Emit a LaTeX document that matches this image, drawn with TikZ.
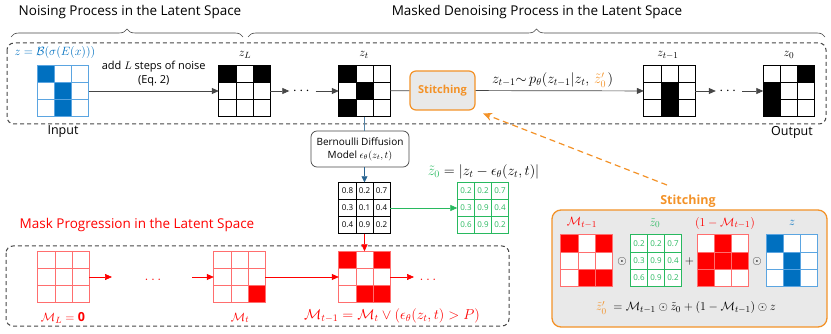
\documentclass[tikz,border=0pt]{standalone}
\usepackage{amsmath,amssymb}
\usepackage{fontspec}
\setmainfont{Open Sans}
\usetikzlibrary{arrows.meta, calc, decorations.pathreplacing, positioning}

\definecolor{zblue}{RGB}{0,112,192}
\definecolor{zbluelight}{RGB}{91,165,225}
\definecolor{mred}{RGB}{255,0,0}
\definecolor{mredlight}{RGB}{255,110,110}
\definecolor{zgreen}{RGB}{40,185,95}
\definecolor{storange}{RGB}{243,146,40}
\definecolor{stgray}{RGB}{233,233,233}
\definecolor{modelblue}{RGB}{40,100,145}
\definecolor{darkline}{RGB}{70,70,70}

\tikzset{
	cellbox/.style={minimum size=51pt, inner sep=0pt, fill=white},
	numcell/.style={inner sep=0pt, font=\fontsize{8}{9}\selectfont},
	headtext/.style={font=\fontsize{13.5}{15}\selectfont},
	bracket/.style={decorate, decoration={brace, amplitude=8pt}, darkline, line width=0.6pt},
	boxdash/.style={dashed, dash pattern=on 4pt off 3pt, line width=1pt, rounded corners=7pt, darkline},
	flow/.style={-{Triangle[length=7pt,width=6pt]}, line width=0.7pt, darkline},
	plainline/.style={line width=0.7pt, darkline},
	redflow/.style={-{Triangle[length=7pt,width=6pt]}, line width=0.7pt, mred},
	greenflow/.style={-{Triangle[length=7pt,width=6pt]}, line width=0.7pt, zgreen},
	modelarrow/.style={-{Triangle[length=6pt,width=6pt]}, line width=0.7pt, modelblue},
	dotsnode/.style={minimum width=26pt, inner sep=0pt, font=\fontsize{14}{15}\selectfont},
	mathlab/.style={font=\fontsize{12.5}{14}\selectfont},
	wideeq/.style={font=\fontsize{14.5}{16}\selectfont},
	bigtext/.style={font=\fontsize{12.5}{15}\selectfont},
	stitchbox/.style={draw=storange, fill=stgray, line width=1.2pt, rounded corners=6pt, minimum width=65pt, minimum height=39pt, text=storange, font=\fontsize{11}{13}\selectfont\bfseries},
	modelbox/.style={draw=darkline, rounded corners=6pt, line width=0.7pt, minimum width=98pt, minimum height=36pt, align=center, inner sep=1pt, font=\fontsize{10}{13}\selectfont},
}

\newcommand{\bitgrid}[6]{%
	\node[cellbox] (#1) at (#2,#3) {};
	\foreach \gr/\gc in {#6}
		\fill[#5] ({#2-42.5+\gc*17},{#3-42.5+\gr*17}) rectangle +(17,17);
	\foreach \gk in {1,2} {
		\draw[#4, line width=0.8pt] ({#2-25.5+\gk*17},{#3-25.5}) -- +(0,51);
		\draw[#4, line width=0.8pt] ({#2-25.5},{#3-25.5+\gk*17}) -- +(51,0);
	}
	\draw[#4, line width=0.8pt] (#1.north west) rectangle (#1.south east);
}

\newcommand{\numgrid}[5]{%
	\node[cellbox] (#1) at (#2,#3) {};
	\foreach \gr/\gc/\gv in {#5}
		\node[numcell, text=#4] (#1-\gr-\gc) at ({#2-34+\gc*17},{#3-34+\gr*17}) {\gv};
	\foreach \gk in {1,2} {
		\draw[#4, line width=0.7pt] ({#2-25.5+\gk*17},{#3-25.5}) -- +(0,51);
		\draw[#4, line width=0.7pt] ({#2-25.5},{#3-25.5+\gk*17}) -- +(51,0);
	}
	\draw[#4, line width=0.7pt] (#1.north west) rectangle (#1.south east);
}

\begin{document}
\begin{tikzpicture}[x=1pt, y=-1pt]
	\useasboundingbox (0,0) rectangle (831,334);

	\node[headtext] (noisehead) at (130,12) {Noising Process in the Latent Space};
	\node[headtext] (denoisehead) at (537,12) {Masked Denoising Process in the Latent Space};
	\draw[bracket] (11,37) -- (243,37);
	\draw[bracket] (248,37) -- (825,37);

	\draw[boxdash] (7,43) rectangle (826,124);
	\draw[boxdash] (6,246) rectangle (509,326);
	\draw[storange, fill=stgray, line width=1.3pt, rounded corners=9pt] (552,210) rectangle (827,327);

	\node[mathlab, text=zblue, anchor=west] (zdef) at (11,53) {$z=\mathcal{B}(\sigma(E(x)))$};
	\bitgrid{input}{63}{91}{zbluelight}{zblue}{1/1,2/2,3/2}
	\bitgrid{zL}{244.5}{91}{black}{black}{1/1,1/3}
	\bitgrid{zt}{364.5}{91}{black}{black}{1/1,2/2,3/1}
	\bitgrid{ztm}{669.5}{91}{black}{black}{2/2,3/2}
	\bitgrid{zzero}{789}{91}{black}{black}{1/3,2/1,3/1}
	\node[stitchbox] (stitch) at (442.5,90.5) {Stitching};
	\node[dotsnode] (dotsa) at (302.5,91) {$\cdots$};
	\node[dotsnode] (dotsb) at (729,91) {$\cdots$};

	\node[mathlab] (zLlab) at (245,55) {$z_L$};
	\node[mathlab] (ztlab) at (364,55) {$z_t$};
	\node[mathlab] (ztmlab) at (668,55) {$z_{t-1}$};
	\node[mathlab] (zzerolab) at (789,55) {$z_0$};
	\node[bigtext] (inputlab) at (63,132) {Input};
	\node[bigtext] (outputlab) at (792,132) {Output};

	\draw[flow] (input) -- node[above=1pt, align=center, text=black, font=\fontsize{11}{14}\selectfont] {add $L$ steps of noise\\(Eq.~2)} (zL);
	\draw[flow] (zL) -- (dotsa);
	\draw[flow] (dotsa) -- (zt);
	\draw[plainline] (zt) -- (stitch);
	\draw[flow] (stitch) -- node[above=0pt, wideeq, text=black, xshift=-7pt] {$z_{t-1}{\sim}\,p_\theta(z_{t-1}|z_t,\,\textcolor{storange}{\tilde{z}_0'}\mkern2mu)$} (ztm);
	\draw[flow] (ztm) -- (dotsb);
	\draw[flow] (dotsb) -- (zzero);

	\node[modelbox] (bdm) at (360,149) {Bernoulli Diffusion\\Model $\epsilon_\theta(z_t,t)$};
	\draw[line width=0.7pt, modelblue!80] (zt.south) -- (zt.south |- bdm.north);
	\numgrid{eps}{364.5}{208}{black}{1/1/0.8,1/2/0.2,1/3/0.7,2/1/0.3,2/2/0.1,2/3/0.4,3/1/0.4,3/2/0.9,3/3/0.2}
	\draw[modelarrow] (eps.north |- bdm.south) -- (eps.north);
	\numgrid{ztil}{483}{208}{zgreen}{1/1/0.2,1/2/0.2,1/3/0.7,2/1/0.3,2/2/0.9,2/3/0.4,3/1/0.6,3/2/0.9,3/3/0.2}
	\draw[greenflow] (eps) -- (ztil);
	\node[wideeq] (ztileq) at (483.5,172) {$\textcolor{zgreen}{\tilde{z}_0}=|z_t-\epsilon_\theta(z_t,t)|$};

	\node[headtext, text=mred] (maskhead) at (137,225) {Mask Progression in the Latent Space};
	\bitgrid{mL}{63.5}{277}{mredlight}{white}{1/1}
	\bitgrid{mt}{239.5}{277}{mredlight}{mred}{3/3}
	\bitgrid{mtm}{364.5}{277}{mredlight}{mred}{1/1,1/3,3/2,3/3}
	\coordinate (mLend) at (112,277);
	\coordinate (mtstart) at (192,277);
	\coordinate (mtmend) at (414,277);
	\node[dotsnode, text=mred] (dotsc) at (153,280) {$\ldots$};
	\node[dotsnode, text=mred] (dotsd) at (428,280) {$\ldots$};
	\draw[redflow] (mL) -- (mLend);
	\draw[redflow] (mtstart) -- (mt);
	\draw[redflow] (mt) -- (mtm);
	\draw[redflow] (mtm) -- (mtmend);
	\draw[redflow] (eps) -- (mtm);
	\node[mathlab, text=mred] (mLlab) at (63,318) {$\mathcal{M}_L=\mathbf{0}$};
	\node[mathlab, text=mred] (mtlab) at (240,318) {$\mathcal{M}_t$};
	\node[wideeq, text=mred] (mtmlab) at (392,316) {$\mathcal{M}_{t-1}=\mathcal{M}_t\vee(\epsilon_\theta(z_t,t)>P)$};

	\node[text=storange, font=\fontsize{12.5}{14}\selectfont\bfseries] (paneltitle) at (688,201) {Stitching};
	\coordinate (stitchtail) at (667,185);
	\draw[storange, dashed, dash pattern=on 6pt off 4pt, line width=1.2pt, -{Stealth[length=9pt,width=8pt]}, shorten >=8pt] (stitchtail) -- (stitch.south east);
	\node[mathlab, text=mred] (pmlab) at (582,223) {$\mathcal{M}_{t-1}$};
	\node[mathlab, text=zgreen] (pztlab) at (655,223) {$\tilde{z}_0$};
	\node[mathlab, text=mred] (pinvlab) at (725,223) {$(1-\mathcal{M}_{t-1})$};
	\node[mathlab, text=zblue] (pzblab) at (792,223) {$z$};
	\bitgrid{pm}{586.5}{260.5}{mredlight}{mred}{1/1,1/3,3/2,3/3}
	\numgrid{pzt}{656}{260.5}{zgreen}{1/1/0.2,1/2/0.2,1/3/0.7,2/1/0.3,2/2/0.9,2/3/0.4,3/1/0.6,3/2/0.9,3/3/0.2}
	\bitgrid{pinv}{723}{260.5}{mredlight}{mred}{1/2,2/1,2/2,2/3,3/1}
	\bitgrid{pzb}{792}{260.5}{zbluelight}{zblue}{1/1,2/2,3/2}
	\node[mathlab] (opa) at (622,262) {$\odot$};
	\node[mathlab] (opb) at (689.5,262) {$+$};
	\node[mathlab] (opc) at (757,262) {$\odot$};
	\node[mathlab] (stitcheq) at (686,308) {$\textcolor{storange}{\tilde{z}_0'}\;=\mathcal{M}_{t-1}\odot\tilde{z}_0+(1-\mathcal{M}_{t-1})\odot z$};
\end{tikzpicture}
\end{document}
